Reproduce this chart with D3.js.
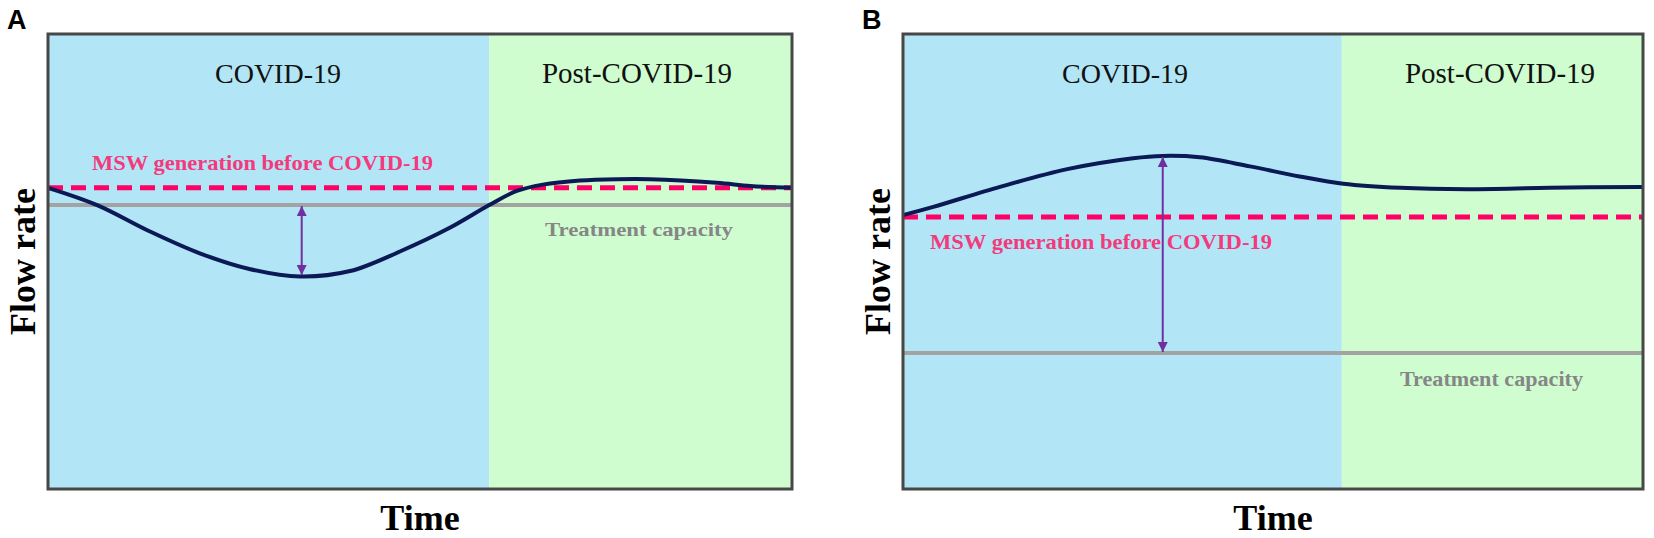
<!DOCTYPE html>
<html><head><meta charset="utf-8">
<script src="https://cdn.jsdelivr.net/npm/d3@7"></script>
<style>body{margin:0;background:#fff;} svg{display:block;}</style>
</head><body>
<svg id="chart" width="1654" height="538"></svg>
<script>
// ---- data ----
const panelLabels = ["A", "B"];
const phaseLabels = ["COVID-19", "Post-COVID-19"];
const phaseBoundary = 59.3;           // % of time axis where post-COVID starts
const xAxisTitle = "Time";
const yAxisTitle = "Flow rate";
const mswLabel = "MSW generation before COVID-19";
const capLabel = "Treatment capacity";

const timeA = [0, 6.6, 13.7, 20.4, 27.2, 33.9, 40.6, 47.3, 54.0, 59.3, 63.0, 66.5, 71.5, 76.5, 80.9, 89.9, 94.4, 100];
const flowA = [66.2, 62.4, 56.6, 51.8, 48.3, 46.7, 47.9, 52.2, 57.4, 62.4, 65.5, 66.9, 67.8, 68.1, 68.1, 67.3, 66.6, 66.2];
const timeB = [0, 4.1, 13.1, 22.2, 31.1, 35.1, 40.1, 46.9, 53.6, 59.5, 67.2, 76.2, 87.4, 100];
const flowB = [60.2, 62.0, 66.4, 70.3, 72.7, 73.2, 72.9, 70.9, 68.7, 67.1, 66.2, 65.9, 66.2, 66.4];

const mswBefore = [66.2, 59.8];       // pre-COVID generation level, panel A / B
const capacity  = [62.4, 29.9];       // treatment capacity level, panel A / B
const gapTime   = [34.1, 35.1];       // where the double arrow is drawn
const gapTop    = [62.4, 73.2];
const gapBottom = [46.8, 29.9];

// ---- layout ----
const svg = d3.select("#chart");
const frames = [{x0: 48, x1: 792}, {x0: 903, x1: 1643}];
const plotTop = 34, plotBottom = 489;
const serif = "'Liberation Serif','Times New Roman',serif";

const defs = svg.append("defs");
defs.append("marker").attr("id", "ah").attr("viewBox", "0 0 10 10")
  .attr("refX", 10).attr("refY", 5).attr("markerWidth", 12).attr("markerHeight", 10)
  .attr("markerUnits", "userSpaceOnUse").attr("orient", "auto-start-reverse")
  .append("path").attr("d", "M0,0 L10,5 L0,10 z").attr("fill", "#7030a0");

const panels = [
  {t: timeA, f: flowA, msw: {x0: 92, w: 341, y: 170, size: 21}, cap: {x0: 545, w: 188, y: 236, size: 19},
   phaseX: [278, 637]},
  {t: timeB, f: flowB, msw: {x0: 930, w: 342, y: 249, size: 22}, cap: {x0: 1400, w: 183, y: 386, size: 21},
   phaseX: [1125, 1500]}
];

panels.forEach((p, i) => {
  const fr = frames[i];
  const x = d3.scaleLinear().domain([0, 100]).range([fr.x0, fr.x1]);
  const y = d3.scaleLinear().domain([0, 100]).range([plotBottom, plotTop]);
  const g = svg.append("g");

  // phase backgrounds
  g.append("rect").attr("x", x(0)).attr("y", y(100)).attr("width", x(phaseBoundary) - x(0))
    .attr("height", y(0) - y(100)).attr("fill", "#b2e6f7");
  g.append("rect").attr("x", x(phaseBoundary)).attr("y", y(100)).attr("width", x(100) - x(phaseBoundary))
    .attr("height", y(0) - y(100)).attr("fill", "#cffdd0");

  // phase labels
  [0, 1].forEach(k => {
    g.append("text").attr("x", p.phaseX[k]).attr("y", 83).attr("text-anchor", "middle")
      .attr("font-family", serif).attr("font-size", k === 0 ? 28 : 29).attr("fill", "#111")
      .text(phaseLabels[k]);
  });

  // treatment capacity line
  g.append("line").attr("x1", x(0)).attr("x2", x(100)).attr("y1", y(capacity[i])).attr("y2", y(capacity[i]))
    .attr("stroke", "#a3a3a3").attr("stroke-width", 4);

  // MSW before COVID dashed line
  g.append("line").attr("x1", x(0)).attr("x2", x(100)).attr("y1", y(mswBefore[i])).attr("y2", y(mswBefore[i]))
    .attr("stroke", "#ff0066").attr("stroke-width", 5).attr("stroke-dasharray", "15,8");

  // flow curve
  const line = d3.line().x(d => x(d[0])).y(d => y(d[1])).curve(d3.curveCatmullRom.alpha(0.5));
  g.append("path").datum(d3.zip(p.t, p.f)).attr("d", line)
    .attr("fill", "none").attr("stroke", "#0b1a55").attr("stroke-width", 4);

  // double arrow
  g.append("line").attr("x1", x(gapTime[i])).attr("x2", x(gapTime[i]))
    .attr("y1", y(gapTop[i]) + 1).attr("y2", y(gapBottom[i]) - 1)
    .attr("stroke", "#7030a0").attr("stroke-width", 2)
    .attr("marker-start", "url(#ah)").attr("marker-end", "url(#ah)");

  // labels on lines
  g.append("text").attr("x", p.msw.x0).attr("y", p.msw.y).attr("font-family", serif)
    .attr("font-weight", "bold").attr("font-size", p.msw.size).attr("fill", "#f23a7c")
    .attr("textLength", p.msw.w).attr("lengthAdjust", "spacingAndGlyphs").text(mswLabel);
  g.append("text").attr("x", p.cap.x0).attr("y", p.cap.y).attr("font-family", serif)
    .attr("font-weight", "bold").attr("font-size", p.cap.size).attr("fill", "#868686")
    .attr("textLength", p.cap.w).attr("lengthAdjust", "spacingAndGlyphs").text(capLabel);

  // frame
  g.append("rect").attr("x", x(0)).attr("y", y(100)).attr("width", x(100) - x(0))
    .attr("height", y(0) - y(100)).attr("fill", "none").attr("stroke", "#474747").attr("stroke-width", 3);

  // axis titles
  g.append("text").attr("x", (x(0) + x(100)) / 2).attr("y", 530).attr("text-anchor", "middle")
    .attr("font-family", serif).attr("font-weight", "bold").attr("font-size", 36).attr("fill", "#000")
    .text(xAxisTitle);
  g.append("text").attr("transform", `translate(${x(0) - 13},${(plotTop + plotBottom) / 2}) rotate(-90)`)
    .attr("text-anchor", "middle").attr("font-family", serif).attr("font-weight", "bold")
    .attr("font-size", 36).attr("fill", "#000").text(yAxisTitle);

  // panel letter
  svg.append("text").attr("x", x(0) - 41).attr("y", 29).attr("font-family", "'Liberation Sans',Arial,sans-serif")
    .attr("font-weight", "bold").attr("font-size", 27).attr("fill", "#000").text(panelLabels[i]);
});
</script>
</body></html>
